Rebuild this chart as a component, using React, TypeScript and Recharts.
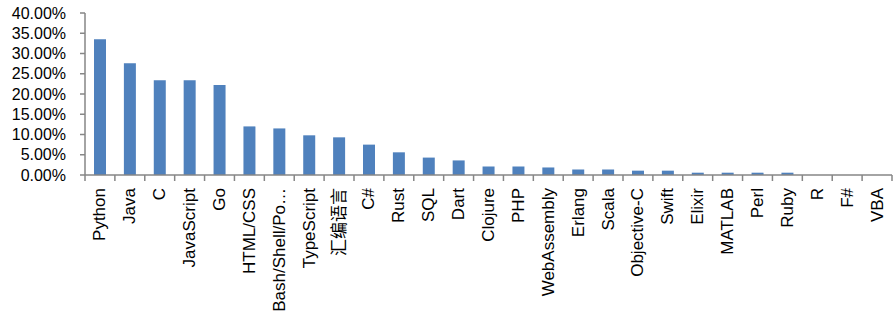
import React from 'react';
import { BarChart, Bar, XAxis, YAxis } from 'recharts';

const languages = [
  'Python', 'Java', 'C', 'JavaScript', 'Go', 'HTML/CSS', 'Bash/Shell/Po…', 'TypeScript', '汇编语言',
  'C#', 'Rust', 'SQL', 'Dart', 'Clojure', 'PHP', 'WebAssembly', 'Erlang', 'Scala', 'Objective-C',
  'Swift', 'Elixir', 'MATLAB', 'Perl', 'Ruby', 'R', 'F#', 'VBA',
];
const shares = [
  33.5, 27.6, 23.4, 23.4, 22.2, 12.0, 11.5, 9.8, 9.3,
  7.5, 5.6, 4.3, 3.6, 2.1, 2.1, 1.86, 1.36, 1.36, 1.07,
  1.07, 0.57, 0.57, 0.57, 0.57, 0, 0, 0,
];
const yTicks = [0, 5, 10, 15, 20, 25, 30, 35, 40];

const data = languages.map((name, i) => ({ name, value: shares[i] }));

const FONT = '"Liberation Sans", "Noto Sans CJK SC", sans-serif';
const AXIS = '#868686';

const XTick = (props: any) => {
  const { x, y, payload, index, visibleTicksCount } = props;
  const half = payload && payload.offset ? payload.offset : 15;
  return (
    <g>
      <line x1={x - half} x2={x - half} y1={y} y2={y + 6} stroke={AXIS} strokeWidth={1.5} />
      {index === visibleTicksCount - 1 && (
        <line x1={x + half} x2={x + half} y1={y} y2={y + 6} stroke={AXIS} strokeWidth={1.5} />
      )}
      <text
        transform={`translate(${x},${y + 13}) rotate(-90)`}
        textAnchor="end"
        dominantBaseline="central"
        fontFamily={FONT}
        fontSize={17}
        fill="#000"
      >
        {payload.value}
      </text>
    </g>
  );
};

export default function App() {
  return (
    <div style={{ position: 'absolute', left: 0, top: 0, background: '#fff' }}>
      <BarChart
        width={893}
        height={314}
        data={data}
        margin={{ top: 13, right: 1, left: 0, bottom: 0 }}
      >
        <XAxis
          dataKey="name"
          interval={0}
          height={139}
          tickLine={false}
          tickSize={0}
          tickMargin={0}
          axisLine={{ stroke: AXIS, strokeWidth: 1.5 }}
          tick={<XTick />}
        />
        <YAxis
          domain={[0, 40]}
          ticks={yTicks}
          interval={0}
          width={85}
          tickSize={5}
          tickMargin={14}
          tickLine={{ stroke: AXIS, strokeWidth: 1.5 }}
          axisLine={{ stroke: AXIS, strokeWidth: 1.5 }}
          tickFormatter={(v: number) => `${v.toFixed(2)}%`}
          tick={{ fill: '#000', fontFamily: FONT, fontSize: 16 }}
          allowDataOverflow
        />
        <Bar dataKey="value" fill="#4F81BD" barSize={12} isAnimationActive={false} />
      </BarChart>
    </div>
  );
}
